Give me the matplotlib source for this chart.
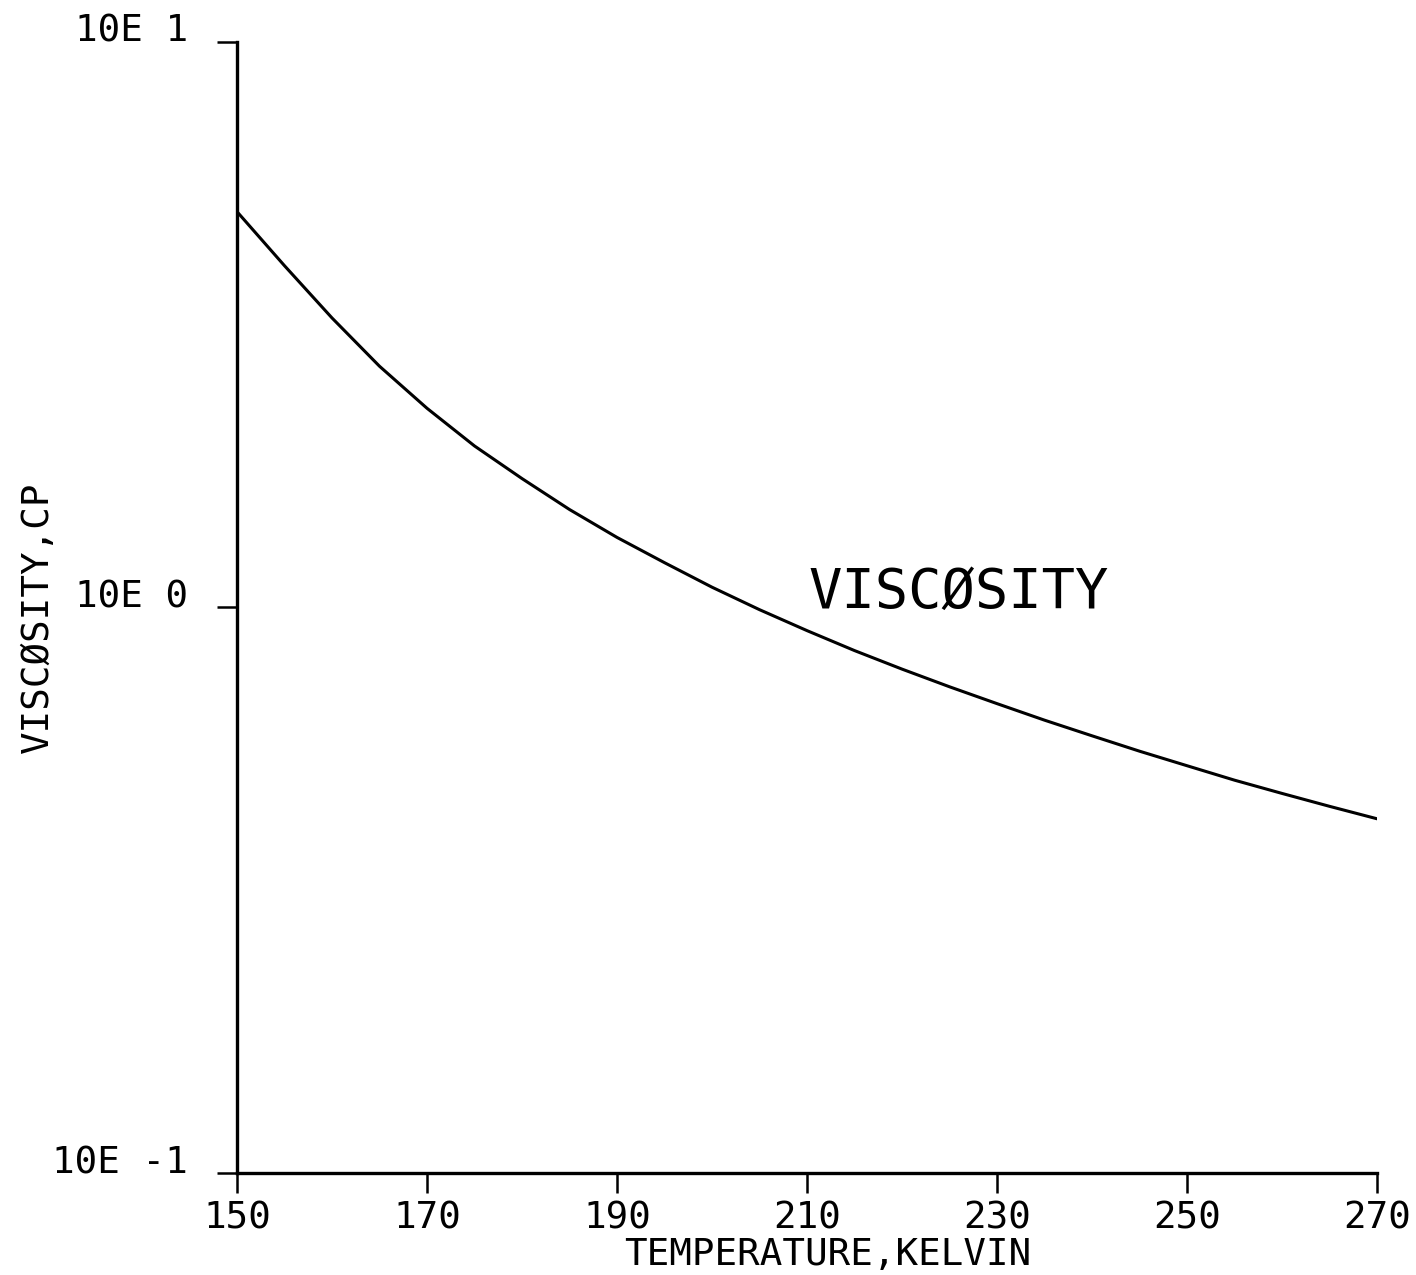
import matplotlib
matplotlib.use("Agg")
import matplotlib.pyplot as plt
from matplotlib.ticker import NullLocator

# Viscosity (cP) versus temperature (K)
temperature_k = [150, 155, 160, 165, 170, 175, 180, 185, 190, 195, 200, 205, 210,
                 215, 220, 225, 230, 235, 240, 245, 250, 255, 260, 265, 270]
viscosity_cp = [5.01, 4.02, 3.25, 2.67, 2.25, 1.93, 1.69, 1.49, 1.33, 1.20, 1.086, 0.991, 0.910,
                0.839, 0.778, 0.724, 0.676, 0.632, 0.593, 0.557, 0.525, 0.495, 0.469, 0.445, 0.423]

x_ticks = [150, 170, 190, 210, 230, 250, 270]
y_ticks = [0.1, 1.0, 10.0]
y_tick_labels = ["10E -1", "10E 0", "10E 1"]

plt.rcParams["font.family"] = ["DejaVu Sans Mono", "DejaVu Sans"]

fig = plt.figure(figsize=(14.16, 12.75), dpi=100)
ax = fig.add_axes([0.1674, 0.0800, 0.8051, 0.8871])

ax.plot(temperature_k, viscosity_cp, color="black", linewidth=2.2,
        solid_capstyle="round", solid_joinstyle="round")

ax.set_yscale("log")
ax.set_xlim(150, 270)
ax.set_ylim(0.1, 10.0)

ax.set_xticks(x_ticks)
ax.set_xticklabels([str(t) for t in x_ticks])
ax.set_yticks(y_ticks)
ax.set_yticklabels(y_tick_labels, va="baseline")
ax.yaxis.set_minor_locator(NullLocator())
ax.xaxis.set_minor_locator(NullLocator())

for side in ("top", "right"):
    ax.spines[side].set_visible(False)
for side in ("left", "bottom"):
    ax.spines[side].set_linewidth(2.4)

ax.tick_params(axis="x", direction="out", length=14.5, width=1.8, pad=5, labelsize=27)
ax.tick_params(axis="y", direction="out", length=14.5, width=1.8, pad=21, labelsize=27)

ax.set_xlabel("TEMPERATURE,KELVIN", fontsize=27, va="center")
ax.xaxis.set_label_coords(0.518, -0.0725)
ax.set_ylabel("VISCØSITY,CP", fontsize=27, va="center")
ax.yaxis.set_label_coords(-0.1746, 0.491)

ax.text(210.2, 1.0, "VISCØSITY", fontsize=40, ha="left", va="baseline")

fig.savefig("out.png", dpi=100, facecolor="white")
